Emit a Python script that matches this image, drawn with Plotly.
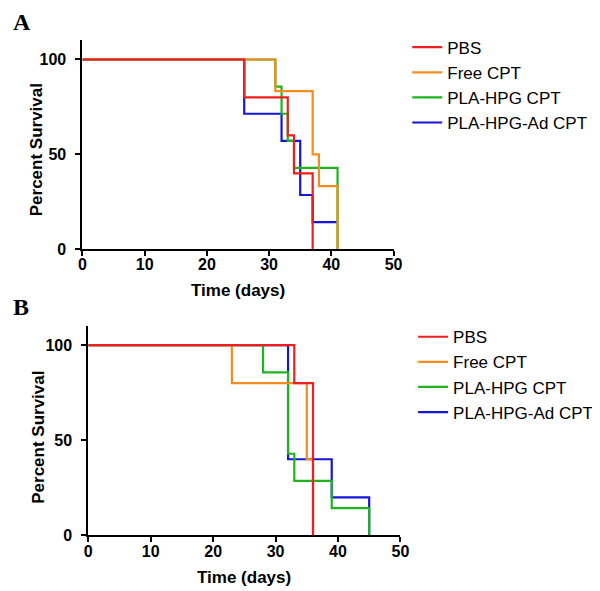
import plotly.graph_objects as go

series_names = ["PBS", "Free CPT", "PLA-HPG CPT", "PLA-HPG-Ad CPT"]
colors = ["#F01E1E", "#F58C1E", "#1EB41E", "#1414DC"]

# Panel A (days, percent survival)
a_pbs_t = [0, 26, 33, 34, 37]
a_pbs_s = [100, 80, 60, 40, 0]
a_free_t = [0, 31, 37, 38, 41]
a_free_s = [100, 83.3, 50, 33.3, 0]
a_hpg_t = [0, 31, 32, 33, 34, 41]
a_hpg_s = [100, 85.7, 71.4, 57.1, 42.9, 0]
a_ad_t = [0, 26, 32, 35, 37, 41]
a_ad_s = [100, 71.4, 57.1, 28.6, 14.3, 14.3]

# Panel B
b_pbs_t = [0, 33, 36]
b_pbs_s = [100, 80, 0]
b_free_t = [0, 23, 35, 36]
b_free_s = [100, 80, 40, 0]
b_hpg_t = [0, 28, 32, 33, 39, 45]
b_hpg_s = [100, 85.7, 42.9, 28.6, 14.3, 0]
b_ad_t = [0, 32, 39, 45]
b_ad_s = [100, 40, 20, 0]

x_ticks = [0, 10, 20, 30, 40, 50]
y_ticks = [0, 50, 100]

W, H = 600, 591
FONT = "Liberation Sans, Arial, sans-serif"
SERIF = "Liberation Serif, Times New Roman, serif"

fig = go.Figure()

panelA = [(a_pbs_t, a_pbs_s), (a_free_t, a_free_s), (a_hpg_t, a_hpg_s), (a_ad_t, a_ad_s)]
panelB = [(b_pbs_t, b_pbs_s), (b_free_t, b_free_s), (b_hpg_t, b_hpg_s), (b_ad_t, b_ad_s)]

for i in [3, 2, 1, 0]:
    t, s = panelA[i]
    fig.add_trace(go.Scatter(x=t, y=s, mode="lines", line=dict(color=colors[i], width=2.2, shape="hv"),
                             name=series_names[i], xaxis="x", yaxis="y", legend="legend"))
for i in [3, 2, 1, 0]:
    t, s = panelB[i]
    fig.add_trace(go.Scatter(x=t, y=s, mode="lines", line=dict(color=colors[i], width=2.2, shape="hv"),
                             name=series_names[i], xaxis="x2", yaxis="y2", legend="legend2"))

def px_x(p):
    return p / W

def px_y(p):
    return 1 - p / H

axis_common = dict(showgrid=False, zeroline=False, showline=True, linecolor="black", linewidth=2,
                   ticks="outside", ticklen=5, tickwidth=2, tickcolor="black",
                   tickfont=dict(family=FONT, size=16, color="black", weight="bold"))

title_font = dict(family=FONT, size=17, color="black", weight="bold")

def ann(text, x, y, angle=0, font=title_font, xanchor="center", yanchor="middle", pad=1):
    return dict(text=text, x=px_x(x), y=px_y(y), xref="paper", yref="paper", xanchor=xanchor,
                yanchor=yanchor, showarrow=False, textangle=angle, font=font, borderpad=pad)

fig.update_layout(
    width=W, height=H,
    margin=dict(l=0, r=0, t=0, b=0),
    paper_bgcolor="white", plot_bgcolor="white",
    xaxis=dict(domain=[px_x(72), px_x(390)], range=[0, 50], tickvals=x_ticks, anchor="y",
               ticklabelstandoff=-5, **axis_common),
    yaxis=dict(domain=[px_y(245), px_y(33)], range=[0, 110], tickvals=y_ticks, anchor="x",
               ticklabelstandoff=6, **axis_common),
    xaxis2=dict(domain=[px_x(78), px_x(397)], range=[0, 50], tickvals=x_ticks, anchor="y2",
                ticklabelstandoff=-5, **axis_common),
    yaxis2=dict(domain=[px_y(535.5), px_y(323)], range=[0, 110], tickvals=y_ticks, anchor="x2",
                ticklabelstandoff=6, **axis_common),
    legend=dict(x=px_x(404), y=px_y(22), xanchor="left", yanchor="top", traceorder="reversed",
                font=dict(family=FONT, size=17, color="black"), bgcolor="rgba(0,0,0,0)",
                tracegroupgap=0, itemwidth=30),
    legend2=dict(x=px_x(410), y=px_y(316), xanchor="left", yanchor="top", traceorder="reversed",
                 font=dict(family=FONT, size=17, color="black"), bgcolor="rgba(0,0,0,0)",
                 tracegroupgap=0, itemwidth=30),
    annotations=[
        ann("A", 0, 0, font=dict(family=SERIF, size=24, color="black", weight="bold"),
            xanchor="left", yanchor="top", pad=0),
        ann("B", 0, 289, font=dict(family=SERIF, size=24, color="black", weight="bold"),
            xanchor="left", yanchor="top", pad=0),
        ann("Time (days)", 231, 287),
        ann("Time (days)", 237, 578),
        ann("Percent Survival", 25, 144, angle=-90),
        ann("Percent Survival", 27, 436, angle=-90),
    ],
)

fig.write_html("out.html")
